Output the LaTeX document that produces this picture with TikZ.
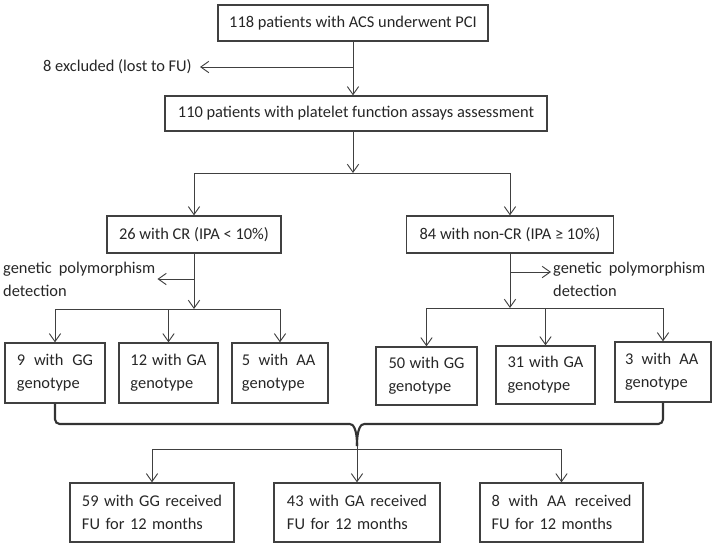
\documentclass[tikz,border=0pt]{standalone}
\usepackage{fontspec}
\setmainfont{Carlito}
\usetikzlibrary{arrows.meta}
\tikzstyle{box}=[draw=black!75, line width=1.1pt, text=black!85, inner sep=0pt]
\tikzstyle{gene box}=[box, text width=2.28cm, align=left, minimum height=1.8cm]
\tikzstyle{fu box}=[box, text width=4.2cm, align=left, minimum height=1.77cm]
\tikzstyle{note}=[text=black!85, inner sep=0pt]
\tikzstyle{flow}=[draw=black!75, line width=.8pt, -{Straight Barb[length=.24cm,width=.34cm]}]
\tikzstyle{brace}=[draw=black!80, line width=1.8pt]
\newcommand{\spread}[2]{\makebox[#1][l]{#2}}

\begin{document}
\begin{tikzpicture}[x=.03cm,y=-.03cm,font=\fontsize{14}{19.6}\selectfont]
  \useasboundingbox (0,0) rectangle (714,546);

  % Enrolment
  \draw (353,23) node[box,minimum width=8.1cm,minimum height=1.08cm] (acs) {118 patients with ACS underwent PCI};
  \draw (356,113.5) node[box,minimum width=11.46cm,minimum height=1.05cm] (pfa) {110 patients with platelet function assays assessment};
  \draw (200,67) node[note,anchor=east,inner xsep=.24cm] (excl) {8 excluded (lost to FU)};
  \draw[flow] (acs.south) -- (acs.south |- pfa.north);
  \draw[flow] (acs.south |- excl.east) -- (excl.east);

  % Responders
  \draw (194,234.5) node[box,minimum width=5.22cm,minimum height=1.11cm] (cr) {26 with CR (IPA < 10\%)};
  \draw (510,234.5) node[box,minimum width=6.21cm,minimum height=1.11cm] (ncr) {84 with non-CR (IPA ≥ 10\%)};
  \coordinate (fork1) at (353,173);
  \draw[flow] (acs.south |- pfa.south) -- (fork1);
  \draw[flow] (fork1) -| (cr.north);
  \draw[flow] (fork1) -| (ncr.north);

  % Genotyping
  \draw (1,279) node[note,anchor=west,inner xsep=.06cm,text width=4.56cm,align=left] (detl) {\spread{4.56cm}{genetic\hfill polymorphism}\\detection};
  \draw (551,279) node[note,anchor=west,inner xsep=.06cm,text width=4.56cm,align=left] (detr) {\spread{4.56cm}{genetic\hfill polymorphism}\\detection};
  \coordinate (detrin) at ([yshift=.21cm]detr.west);
  \draw[flow] (cr.south |- detl.east) -- (detl.east);
  \draw[flow] (ncr.south |- detrin) -- (detrin);
  \coordinate (fork2) at (194,309);
  \coordinate (fork3) at (510,308);
  \draw[flow] (cr.south) -- (fork2);
  \draw[flow] (ncr.south) -- (fork3);

  \draw (55,373) node[gene box,minimum width=3cm] (gg1) {\spread{2.28cm}{9\hfill with\hfill GG}\\genotype};
  \draw (168.5,373) node[gene box,minimum width=2.97cm] (ga1) {\spread{2.28cm}{12\hfill with\hfill GA}\\genotype};
  \draw (280,373) node[gene box,minimum width=2.88cm] (aa1) {\spread{2.2cm}{5\hfill with\hfill AA}\\genotype};
  \draw (426.5,376) node[gene box,minimum width=3.03cm,minimum height=1.74cm] (gg2) {\spread{2.28cm}{50\hfill with\hfill GG}\\genotype};
  \draw (545.5,375) node[gene box,minimum width=2.97cm,minimum height=1.74cm] (ga2) {\spread{2.28cm}{31\hfill with\hfill GA}\\genotype};
  \draw (663,372) node[gene box,minimum width=2.88cm] (aa2) {\spread{2.2cm}{3\hfill with\hfill AA}\\genotype};
  \draw[flow] (fork2) -| (gg1.north);
  \draw[flow] (fork2) -| (aa1.north);
  \draw[flow] (fork2 -| ga1.north) -- (ga1.north);
  \draw[flow] (fork3) -| (gg2.north);
  \draw[flow] (fork3) -| (aa2.north);
  \draw[flow] (fork3 -| ga2.north) -- (ga2.north);

  % Pooled follow-up
  \coordinate (tip) at (357,446);
  \coordinate (fork4) at (357,449);
  \draw[brace,rounded corners=4pt] (gg1.south) |- (345,424) .. controls (353,424) and (357,428) .. (tip);
  \draw[brace,rounded corners=4pt] (aa2.south) |- (369,424) .. controls (361,424) and (357,428) .. (tip);
  \draw[draw=black!75,line width=.8pt] (tip) -- (fork4);

  \draw (152,512.5) node[fu box,minimum width=4.92cm] (fu1) {\spread{4.2cm}{59\hfill with\hfill GG\hfill received}\\FU for 12 months};
  \draw (357,512.5) node[fu box,minimum width=4.98cm] (fu2) {\spread{4.2cm}{43\hfill with\hfill GA\hfill received}\\FU for 12 months};
  \draw (561.5,512.5) node[fu box,minimum width=4.89cm] (fu3) {\spread{4.2cm}{8\hfill with\hfill AA\hfill received}\\FU for 12 months};
  \draw[flow] (fork4) -| (fu1.north);
  \draw[flow] (fork4) -- (fu2.north);
  \draw[flow] (fork4) -| (fu3.north);

\end{tikzpicture}
\end{document}
